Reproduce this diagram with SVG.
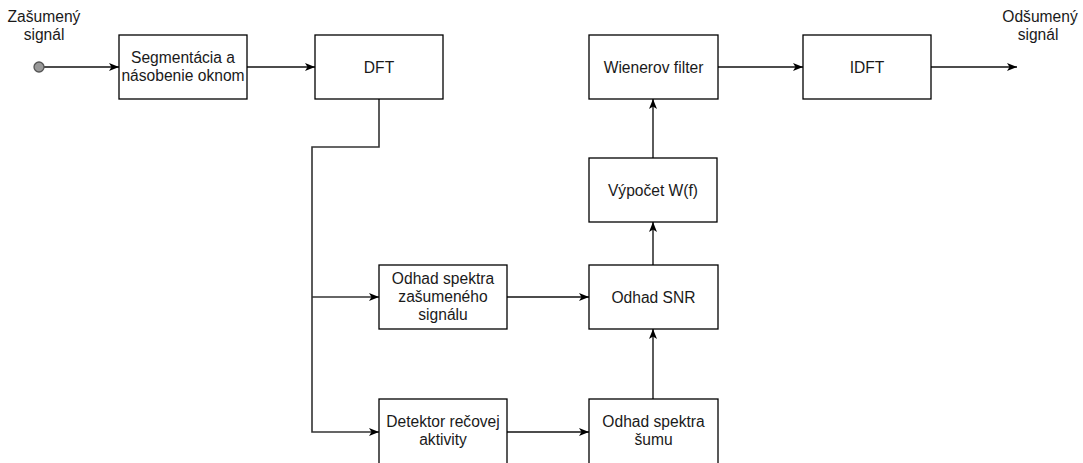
<svg xmlns="http://www.w3.org/2000/svg" width="1083" height="463" viewBox="0 0 1083 463">
<defs>
<marker id="arr" viewBox="0 0 10 8" refX="10" refY="4" markerWidth="10" markerHeight="8" markerUnits="userSpaceOnUse" orient="auto">
<path d="M0,0 L10,4 L0,8 L2.5,4 Z" fill="#000"/>
</marker>
<style>
.box{fill:#fff;stroke:#000;stroke-width:1.3}
.t{font-family:"Liberation Sans",Arial,sans-serif;font-size:15.6px;fill:#1a1a1a;text-anchor:middle}
.c{fill:none;stroke:#111;stroke-width:1.3}
.g{fill:none;stroke:#333;stroke-width:1.6}
</style>
</defs>
<rect width="1083" height="463" fill="#fff"/>
<g id="connectors">
<path class="c" d="M44,67 H119" marker-end="url(#arr)"/>
<path class="c" d="M247,67 H315" marker-end="url(#arr)"/>
<path class="g" d="M379,99 V147 H312 V432 H379" marker-end="url(#arr)"/>
<path class="g" d="M312,297 H379" marker-end="url(#arr)"/>
<path class="c" d="M507,297 H589" marker-end="url(#arr)"/>
<path class="c" d="M507,432 H589" marker-end="url(#arr)"/>
<path class="g" d="M653,399 V329" marker-end="url(#arr)"/>
<path class="g" d="M653,265 V222" marker-end="url(#arr)"/>
<path class="g" d="M653,158 V99" marker-end="url(#arr)"/>
<path class="c" d="M718,67 H803" marker-end="url(#arr)"/>
<path class="c" d="M931,67 H1017" marker-end="url(#arr)"/>
</g>
<g id="input">
<circle cx="39" cy="67" r="5" fill="#999" stroke="#555" stroke-width="1.3"/>
<text class="t" x="44" y="22">Zašumený</text>
<text class="t" x="44" y="40">signál</text>
</g>
<g id="output">
<text class="t" x="1040" y="22">Odšumený</text>
<text class="t" x="1038" y="40">signál</text>
</g>
<g id="segmentacia">
<rect class="box" x="119" y="35" width="128" height="64"/>
<text class="t" x="183" y="63">Segmentácia a</text>
<text class="t" x="183" y="81">násobenie oknom</text>
</g>
<g id="dft">
<rect class="box" x="315" y="35" width="128" height="64"/>
<text class="t" x="379" y="72.5">DFT</text>
</g>
<g id="wiener">
<rect class="box" x="589" y="35" width="129" height="64"/>
<text class="t" x="653.5" y="72.5">Wienerov filter</text>
</g>
<g id="idft">
<rect class="box" x="803" y="35" width="128" height="64"/>
<text class="t" x="867" y="72.5">IDFT</text>
</g>
<g id="vypocet">
<rect class="box" x="589" y="158" width="128" height="64"/>
<text class="t" x="653" y="195.5">Výpočet W(f)</text>
</g>
<g id="odhad-spektra-zasum">
<rect class="box" x="379" y="265" width="128" height="64"/>
<text class="t" x="443" y="284">Odhad spektra</text>
<text class="t" x="443" y="302">zašumeného</text>
<text class="t" x="443" y="320">signálu</text>
</g>
<g id="odhad-snr">
<rect class="box" x="589" y="265" width="129" height="64"/>
<text class="t" x="653.5" y="302.5">Odhad SNR</text>
</g>
<g id="detektor">
<rect class="box" x="379" y="399" width="128" height="66"/>
<text class="t" x="443" y="427">Detektor rečovej</text>
<text class="t" x="443" y="445">aktivity</text>
</g>
<g id="odhad-spektra-sumu">
<rect class="box" x="589" y="399" width="129" height="66"/>
<text class="t" x="653.5" y="427">Odhad spektra</text>
<text class="t" x="653.5" y="445">šumu</text>
</g>
</svg>
